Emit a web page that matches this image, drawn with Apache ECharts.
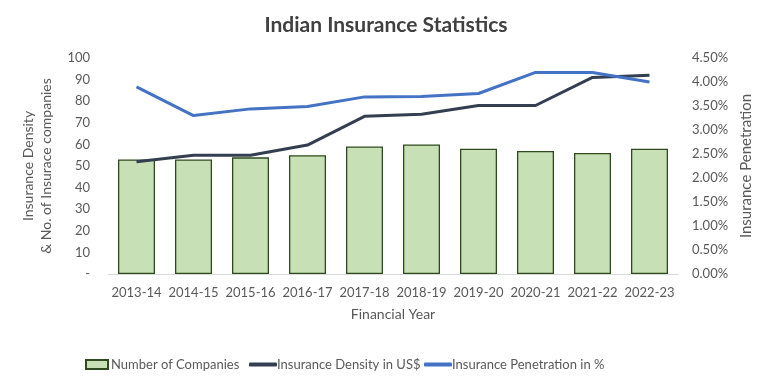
<!DOCTYPE html>
<html><head><meta charset="utf-8">
<script src="https://cdn.jsdelivr.net/npm/echarts@6/dist/echarts.min.js"></script>
<style>html,body{margin:0;padding:0;background:#fff}#c{width:772px;height:379px}</style>
</head><body><div id="c"></div>
<script>
const categories = ['2013-14','2014-15','2015-16','2016-17','2017-18','2018-19','2019-20','2020-21','2021-22','2022-23'];
const companies = [53, 53, 54, 55, 59, 60, 58, 57, 56, 58];
const density = [52, 55, 55, 59.7, 73, 74, 78, 78, 91, 92];
const penetration = [3.90, 3.30, 3.44, 3.49, 3.69, 3.70, 3.76, 4.20, 4.20, 4.00];

const font = 'Lato, "Open Sans", sans-serif';
const txt = '#595959';
const chart = echarts.init(document.getElementById('c'));
chart.setOption({
  animation: false,
  textStyle: {fontFamily: font},
  title: {text: 'Indian Insurance Statistics', left: 'center', top: 10,
    textStyle: {fontFamily: font, fontSize: 21, fontWeight: 'bold', color: '#404040'}},
  grid: {left: 108, right: 94, top: 58, bottom: 105},
  legend: [
    {left: 80, top: 353, itemWidth: 22, itemHeight: 9, itemGap: 4,
     data: [{name: 'Number of Companies', icon: 'rect'}],
     textStyle: {color: txt, fontSize: 13, fontFamily: font, padding: [0,0,0,-2]}},
    {left: 244, top: 353, itemWidth: 28, itemHeight: 4,
     data: [{name: 'Insurance Density in US$', icon: 'roundRect'}],
     textStyle: {color: txt, fontSize: 13, fontFamily: font, padding: [0,0,0,-5]}},
    {left: 419, top: 353, itemWidth: 28, itemHeight: 4,
     data: [{name: 'Insurance Penetration in %', icon: 'roundRect'}],
     textStyle: {color: txt, fontSize: 13, fontFamily: font, padding: [0,0,0,-5]}}
  ],
  xAxis: {type: 'category', data: categories,
    name: 'Financial Year', nameLocation: 'middle', nameGap: 33,
    nameTextStyle: {color: txt, fontSize: 14, fontFamily: font},
    axisLine: {lineStyle: {color: '#d9d9d9', width: 1}},
    axisTick: {show: false},
    axisLabel: {color: txt, fontSize: 13, margin: 12, interval: 0, fontFamily: font}},
  yAxis: [
    {type: 'value', min: 0, max: 100, interval: 10,
     name: 'Insurance Density\n& No. of Insurace companies', nameLocation: 'middle', nameGap: 53, nameRotate: 90,
     nameMoveOverlap: false,
     nameTextStyle: {color: txt, fontSize: 14, lineHeight: 18, fontFamily: font},
     splitLine: {show: false}, axisLine: {show: false}, axisTick: {show: false},
     axisLabel: {color: txt, fontSize: 13, margin: 18, fontFamily: font,
       formatter: v => v === 0 ? '-' : String(v)}},
    {type: 'value', min: 0, max: 4.5, interval: 0.5,
     name: 'Insurance Penetration', nameLocation: 'middle', nameGap: 61, nameRotate: 90,
     nameTextStyle: {color: txt, fontSize: 15, fontFamily: font, verticalAlign: 'bottom'},
     splitLine: {show: false}, axisLine: {show: false}, axisTick: {show: false},
     axisLabel: {color: txt, fontSize: 13, margin: 14, fontFamily: font,
       formatter: v => v.toFixed(2) + '%'}}
  ],
  series: [
    {name: 'Number of Companies', type: 'bar', data: companies, barWidth: 37,
     itemStyle: {color: '#c8e0b5', borderColor: '#2e4a1e', borderWidth: 1.3}},
    {name: 'Insurance Density in US$', type: 'line', data: density, yAxisIndex: 0,
     symbol: 'none', lineStyle: {color: '#333f50', width: 3}, itemStyle: {color: '#333f50'}},
    {name: 'Insurance Penetration in %', type: 'line', data: penetration, yAxisIndex: 1,
     symbol: 'none', lineStyle: {color: '#4472c4', width: 3}, itemStyle: {color: '#4472c4'}}
  ]
});
</script></body></html>
